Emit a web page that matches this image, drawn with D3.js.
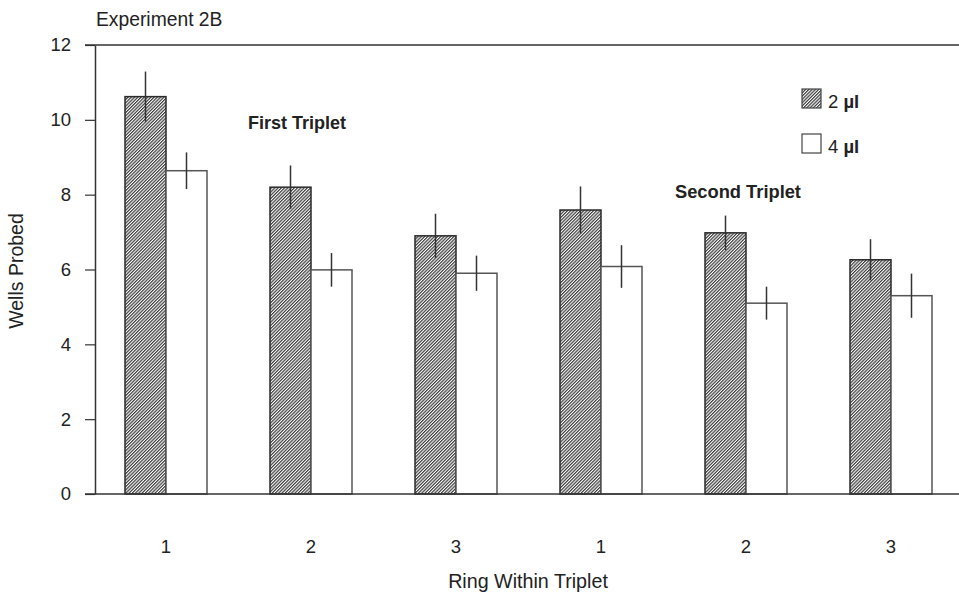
<!DOCTYPE html>
<html>
<head>
<meta charset="utf-8">
<script src="https://cdn.jsdelivr.net/npm/d3@7"></script>
<style>
  body { margin: 0; background: #fff; }
  text { font-family: "Liberation Sans", Arial, sans-serif; fill: #222; }
</style>
</head>
<body>
<div id="chart"></div>
<script>
// data
var groups = [0, 1, 2, 3, 4, 5];
var ringLabels = ["1", "2", "3", "1", "2", "3"];
var series = ["2 µl", "4 µl"];
var means2ul = [10.62, 8.2, 6.9, 7.59, 6.98, 6.26];
var means4ul = [8.64, 5.99, 5.9, 6.08, 5.1, 5.3];
var err2ul = [0.67, 0.58, 0.59, 0.63, 0.46, 0.55];
var err4ul = [0.49, 0.45, 0.47, 0.57, 0.44, 0.59];
var yTicks = [0, 2, 4, 6, 8, 10, 12];

var svgWidth = 959;
var svgHeight = 592;

var svg = d3.select("#chart")
  .append("svg")
  .attr("width", svgWidth)
  .attr("height", svgHeight);

// hatch pattern for the 2 ul bars
var defs = svg.append("defs");
defs.append("pattern")
  .attr("id", "hatch")
  .attr("patternUnits", "userSpaceOnUse")
  .attr("width", 2.3)
  .attr("height", 8)
  .attr("patternTransform", "rotate(45)")
  .call(p => {
    p.append("rect").attr("width", 2.3).attr("height", 8).attr("fill", "#fff");
    p.append("line")
      .attr("x1", 0.6).attr("y1", 0).attr("x2", 0.6).attr("y2", 8)
      .attr("stroke", "#3a3a3a").attr("stroke-width", 1.2);
  });

// scales
var yScale = d3.scaleLinear().domain([0, 12]).range([494, 45]);
var x0 = d3.scaleBand().domain(groups).range([93.5, 963.5]);
var x1 = d3.scaleBand().domain(series).range([31.5, 113.5]);

// rows for the bars
var rows = [];
groups.forEach(function(g) {
  rows.push({ g: g, s: series[0], v: means2ul[g], e: err2ul[g] });
  rows.push({ g: g, s: series[1], v: means4ul[g], e: err4ul[g] });
});

// y axis
var yAxis = svg.append("g")
  .attr("transform", "translate(95,0)")
  .call(d3.axisLeft(yScale).tickValues(yTicks).tickSize(10).tickSizeOuter(0).tickPadding(14));
yAxis.select(".domain").attr("stroke", "#333").attr("stroke-width", 1.5);
yAxis.selectAll(".tick line").attr("stroke", "#333").attr("stroke-width", 1.2);
yAxis.selectAll(".tick text")
  .style("font-size", "18.5px")
  .style("font-family", "'Liberation Sans', Arial, sans-serif")
  .attr("fill", "#222");

// top line
svg.append("line")
  .attr("x1", 85).attr("x2", 959)
  .attr("y1", yScale(12)).attr("y2", yScale(12))
  .attr("stroke", "#333").attr("stroke-width", 1.5);

// bars
svg.append("g").selectAll("rect")
  .data(rows)
  .enter()
  .append("rect")
  .attr("x", d => x0(d.g) + x1(d.s))
  .attr("y", d => yScale(d.v))
  .attr("width", x1.bandwidth())
  .attr("height", d => yScale(0) - yScale(d.v))
  .attr("fill", d => d.s === series[0] ? "url(#hatch)" : "#fff")
  .attr("stroke", d => d.s === series[0] ? "#2a2a2a" : "#555")
  .attr("stroke-width", 1.5);

// error bars (no caps)
svg.append("g").selectAll("line")
  .data(rows)
  .enter()
  .append("line")
  .attr("x1", d => x0(d.g) + x1(d.s) + x1.bandwidth() / 2)
  .attr("x2", d => x0(d.g) + x1(d.s) + x1.bandwidth() / 2)
  .attr("y1", d => yScale(d.v + d.e))
  .attr("y2", d => yScale(d.v - d.e))
  .attr("stroke", "#333")
  .attr("stroke-width", 1.5);

// baseline
svg.append("line")
  .attr("x1", 85).attr("x2", 959)
  .attr("y1", yScale(0)).attr("y2", yScale(0))
  .attr("stroke", "#333").attr("stroke-width", 1.5);

// x axis labels
var xAxis = svg.append("g")
  .attr("transform", "translate(0,494)")
  .call(d3.axisBottom(x0).tickSize(0).tickPadding(46).tickFormat(d => ringLabels[d]));
xAxis.select(".domain").remove();
xAxis.selectAll(".tick text")
  .style("font-size", "18.5px")
  .style("font-family", "'Liberation Sans', Arial, sans-serif")
  .attr("fill", "#222");

// titles
svg.append("text")
  .attr("x", 96).attr("y", 25.5)
  .style("font-size", "19.3px")
  .text("Experiment 2B");

svg.append("text")
  .attr("x", 528).attr("y", 588)
  .attr("text-anchor", "middle")
  .style("font-size", "19.7px")
  .text("Ring Within Triplet");

svg.append("text")
  .attr("transform", "translate(23,271) rotate(-90)")
  .attr("text-anchor", "middle")
  .style("font-size", "19.5px")
  .text("Wells Probed");

svg.append("text")
  .attr("x", 248).attr("y", 128.5)
  .style("font-size", "18px")
  .style("font-weight", "bold")
  .text("First Triplet");

svg.append("text")
  .attr("x", 675).attr("y", 197.5)
  .style("font-size", "18.3px")
  .style("font-weight", "bold")
  .text("Second Triplet");

// legend
var legend = svg.append("g").attr("transform", "translate(802,89)");
series.forEach(function(s, i) {
  var row = legend.append("g").attr("transform", `translate(0, ${i * 45})`);
  row.append("rect")
    .attr("width", 19).attr("height", 19)
    .attr("fill", i === 0 ? "url(#hatch)" : "#fff")
    .attr("stroke", "#444").attr("stroke-width", 1.2);
  var t = row.append("text")
    .attr("x", 26).attr("y", 18.5)
    .style("font-size", "18.5px");
  t.append("tspan").text(s.split(" ")[0] + " ");
  t.append("tspan").style("font-weight", "bold").text(" " + s.split(" ")[1]);
});
</script>
</body>
</html>
